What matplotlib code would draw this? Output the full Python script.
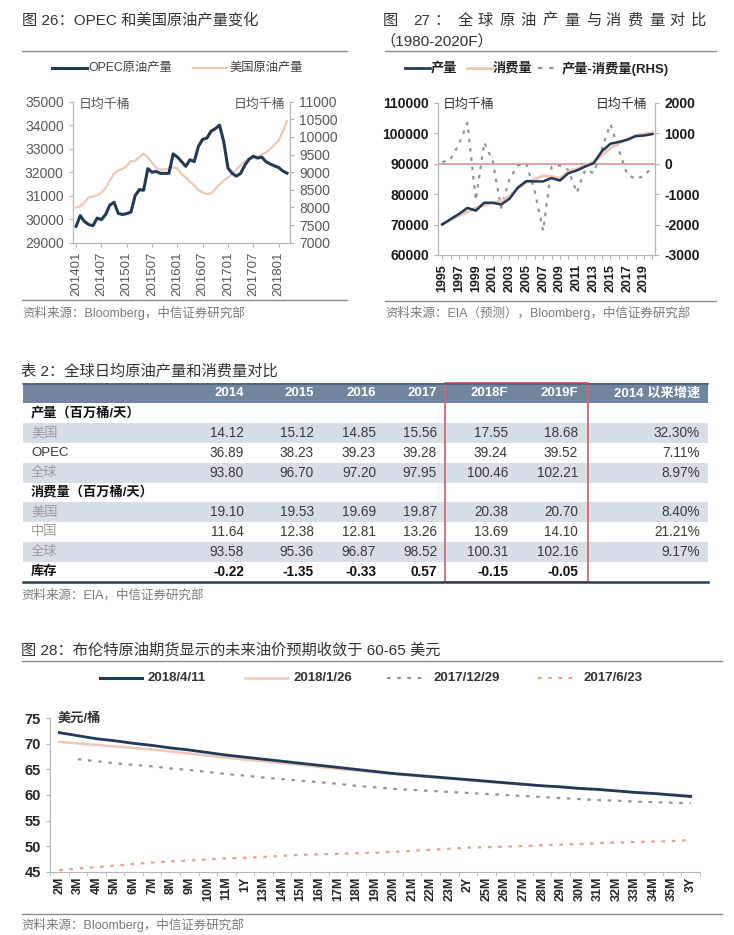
import numpy as np
import matplotlib
matplotlib.use('Agg')
from matplotlib import pyplot as plt
from matplotlib.patches import Rectangle

plt.rcParams['font.family'] = ['Liberation Sans', 'Noto Sans CJK SC', 'DejaVu Sans']
plt.rcParams['axes.unicode_minus'] = False

# ---------------- 图26：OPEC 和美国原油产量（月度 201401-201803，日均千桶）
months26 = [f'{y}{m:02d}' for y in range(2014, 2019) for m in range(1, 13)][:51]
opec = [29700, 30150, 29900, 29770, 29720, 30050, 29980, 30200, 30600, 30720,
        30250, 30200, 30240, 30300, 31000, 31260, 31230, 32150, 32000, 32030,
        31950, 31950, 31950, 32780, 32650, 32450, 32250, 32530, 32450, 33100,
        33400, 33450, 33750, 33850, 34000, 33300, 32180, 31950, 31830, 31950,
        32300, 32550, 32680, 32600, 32640, 32450, 32350, 32270, 32200, 32050, 31960]
us_oil = [8000, 8030, 8150, 8280, 8310, 8350, 8420, 8550, 8780, 8950,
          9050, 9090, 9180, 9310, 9320, 9430, 9530, 9420, 9270, 9120,
          9070, 9080, 9110, 9140, 9100, 8950, 8850, 8730, 8620, 8500,
          8420, 8380, 8400, 8520, 8650, 8760, 8850, 8960, 9080, 9200,
          9310, 9380, 9410, 9450, 9500, 9560, 9660, 9770, 9900, 10150, 10450]

# ---------------- 图27：全球原油产量与消费量（年度，日均千桶）
years27 = list(range(1995, 2021))
prod27 = [70000, 71800, 73500, 75500, 74600, 77200, 77200, 76600, 78500, 82200,
          84300, 84200, 84200, 85300, 84500, 86900, 87800, 89100, 90200, 94200,
          96600, 97200, 97900, 99100, 99300, 99800]
cons27 = [70200, 71500, 73000, 74200, 75500, 76500, 77000, 77800, 79200, 82000,
          83800, 85000, 86000, 85800, 85200, 87500, 88300, 89300, 90700, 92800,
          95200, 96700, 98200, 99300, 99800, 100200]
diff27 = [50, 150, 650, 1350, -1200, 700, 100, -1450, -500, -50,
          0, -900, -2200, -100, -50, -200, -950, -200, -300, 500,
          1300, 450, -350, -500, -400, -100]

# ---------------- 表2
tab_cols = ['2014', '2015', '2016', '2017', '2018F', '2019F', '2014 以来增速']
tab_rows = ['产量（百万桶/天）', '美国', 'OPEC', '全球',
            '消费量（百万桶/天）', '美国', '中国', '全球', '库存']
us_prod = [14.12, 15.12, 14.85, 15.56, 17.55, 18.68]
opec_prod = [36.89, 38.23, 39.23, 39.28, 39.24, 39.52]
world_prod = [93.80, 96.70, 97.20, 97.95, 100.46, 102.21]
us_cons = [19.10, 19.53, 19.69, 19.87, 20.38, 20.70]
china_cons = [11.64, 12.38, 12.81, 13.26, 13.69, 14.10]
world_cons = [93.58, 95.36, 96.87, 98.52, 100.31, 102.16]
stock = [-0.22, -1.35, -0.33, 0.57, -0.15, -0.05]
growth = [None, 32.30, 7.11, 8.97, None, 8.40, 21.21, 9.17, None]

# ---------------- 图28：布伦特期货曲线（美元/桶）
tenors = ['2M', '3M', '4M', '5M', '6M', '7M', '8M', '9M', '10M', '11M', '1Y',
          '13M', '14M', '15M', '16M', '17M', '18M', '19M', '20M', '21M', '22M',
          '23M', '2Y', '25M', '26M', '27M', '28M', '29M', '30M', '31M', '32M',
          '33M', '34M', '35M', '3Y']
c_0411 = [72.2, 71.6, 71.0, 70.6, 70.1, 69.7, 69.2, 68.8, 68.3, 67.8, 67.4,
          67.0, 66.6, 66.2, 65.8, 65.4, 65.0, 64.6, 64.2, 63.9, 63.6,
          63.3, 63.0, 62.7, 62.4, 62.1, 61.8, 61.6, 61.3, 61.1, 60.8,
          60.5, 60.3, 60.0, 59.7]
c_0126 = [70.4, 70.1, 69.8, 69.5, 69.2, 68.9, 68.5, 68.1, 67.7, 67.3, 66.9,
          66.6, 66.2, 65.9, 65.5, 65.1, 64.8, 64.4, 64.1, 63.8, 63.5,
          63.2, 62.9, 62.6, 62.3, 62.0, 61.8, 61.5, 61.2, 61.0, 60.8,
          60.5, 60.3, 60.1, 59.9]
c_1229 = [np.nan, 67.0, 66.6, 66.2, 65.9, 65.6, 65.2, 64.9, 64.5, 64.1, 63.8,
          63.4, 63.1, 62.8, 62.5, 62.2, 61.8, 61.5, 61.2, 61.0, 60.8,
          60.6, 60.4, 60.2, 60.0, 59.8, 59.6, 59.4, 59.2, 59.0, 58.9,
          58.7, 58.6, 58.5, 58.4]
c_0623 = [45.3, 45.6, 45.9, 46.2, 46.5, 46.8, 47.0, 47.2, 47.4, 47.6, 47.7,
          47.9, 48.1, 48.3, 48.4, 48.5, 48.6, 48.7, 48.9, 49.1, 49.3,
          49.5, 49.7, 49.8, 49.9, 50.0, 50.2, 50.3, 50.4, 50.6, 50.7,
          50.8, 50.9, 51.0, 51.2]

NAVY = '#1f3a5a'
PEACH = '#f2c6b4'
GRAYDOT = '#8a96a5'
SALMON = '#e6a18a'
SPINE = '#b5b5b5'
TXT = '#404040'
SRC = '#7a7a7a'

W, H = 734, 935
fig = plt.figure(figsize=(W / 100, H / 100), dpi=100)
bg = fig.add_axes([0, 0, 1, 1])
bg.set_xlim(0, W)
bg.set_ylim(H, 0)
bg.axis('off')


def box(l, t, r, b):
    return fig.add_axes([l / W, 1 - b / H, (r - l) / W, (b - t) / H])


def rule(x0, x1, y):
    bg.plot([x0, x1], [y, y], color='#8c8c8c', lw=1)


def style(ax, color, size, bold=False):
    for s in ax.spines.values():
        s.set_color(SPINE)
    ax.tick_params(colors=SPINE, labelcolor=color, labelsize=size, length=3, width=0.8)
    if bold:
        for lb in ax.get_xticklabels() + ax.get_yticklabels():
            lb.set_fontweight('bold')


# ================= 图26
bg.text(22, 20, '图 26：OPEC 和美国原油产量变化', fontsize=11, color='#333333', va='center')
rule(22, 347, 50.7)
bg.plot([52, 87], [68.3, 68.3], color=NAVY, lw=2.2)
bg.text(88, 68.3, 'OPEC原油产量', fontsize=8.8, color=TXT, va='center')
bg.plot([193, 227], [68.3, 68.3], color=PEACH, lw=1.6)
bg.text(229, 68.3, '美国原油产量', fontsize=8.8, color=TXT, va='center')

ax1 = box(72.7, 101.7, 290, 242.7)
ax1r = ax1.twinx()
x26 = np.arange(len(opec))
ax1.plot(x26, opec, color=NAVY, lw=2.2)
ax1r.plot(x26, us_oil, color=PEACH, lw=1.6)
ax1.set_zorder(ax1r.get_zorder() + 1)
ax1.patch.set_visible(False)
ax1.set_xlim(-0.8, 50.7)
ax1.set_ylim(29000, 35000)
ax1r.set_ylim(7000, 11000)
ax1.set_yticks(range(29000, 35001, 1000))
ax1r.set_yticks(range(7000, 11001, 500))
ax1.set_xticks(x26[::6])
ax1.set_xticklabels(months26[::6], rotation=90)
for a in (ax1, ax1r):
    a.spines['top'].set_visible(False)
    style(a, '#595959', 10)
ax1.tick_params(axis='x', labelsize=9.5)
ax1.text(0.03, 0.975, '日均千桶', transform=ax1.transAxes, fontsize=9.3,
         color='#595959', va='center', ha='left')
ax1.text(0.98, 0.975, '日均千桶', transform=ax1.transAxes, fontsize=9.3,
         color='#595959', va='center', ha='right')
rule(22, 347, 300)
bg.text(22, 313.3, '资料来源：Bloomberg，中信证券研究部', fontsize=9, color=SRC, va='center')

# ================= 图27
t27 = ['图', '27', '：', '全', '球', '原', '油', '产', '量', '与', '消', '费', '量', '对', '比']
t27x = [390.7, 421.7, 441.7, 465, 485, 506.7, 528.3, 550, 571.7, 593.3, 613.3,
        635, 656.7, 676.7, 698.3]
for s, xx in zip(t27, t27x):
    bg.text(xx, 20.7, s, fontsize=11, color='#333333', va='center', ha='center')
bg.text(380, 41.5, '（1980-2020F）', fontsize=11, color='#333333', va='center')
rule(385, 716, 50.7)
bg.plot([405, 430], [68.3, 68.3], color=NAVY, lw=2)
bg.text(431, 68.3, '产量', fontsize=9.5, color='#222222', va='center', fontweight='bold')
bg.plot([467, 492], [68.3, 68.3], color=PEACH, lw=2)
bg.text(493, 68.3, '消费量', fontsize=9.5, color='#222222', va='center', fontweight='bold')
bg.plot([538, 558], [68.3, 68.3], color=GRAYDOT, lw=1.6, ls=(0, (2, 3)))
bg.text(562, 68.3, '产量-消费量(RHS)', fontsize=9.5, color='#222222', va='center',
        fontweight='bold')

ax2 = box(438, 103, 655, 255)
ax2r = ax2.twinx()
ax2r.plot(years27, diff27, color=GRAYDOT, lw=1.6, ls=(0, (1.6, 2.6)))
ax2.axhline(90000, color='#d98a8a', lw=1.1, zorder=1)
ax2.plot(years27, cons27, color=PEACH, lw=2.2, zorder=2)
ax2.plot(years27, prod27, color=NAVY, lw=1.8, zorder=3)
ax2.set_zorder(ax2r.get_zorder() + 1)
ax2.patch.set_visible(False)
ax2.set_xlim(1994.5, 2020.3)
ax2.set_ylim(60000, 110000)
ax2r.set_ylim(-3000, 2000)
ax2.set_yticks(range(60000, 110001, 10000))
ax2r.set_yticks(range(-3000, 2001, 1000))
ax2.set_xticks(years27)
ax2.set_xticklabels([str(y) if y % 2 == 1 and y < 2020 else '' for y in years27], rotation=90)
for a in (ax2, ax2r):
    a.spines['top'].set_visible(False)
    style(a, '#1a1a1a', 10, bold=True)
ax2.tick_params(axis='x', labelsize=9)
ax2.text(0.02, 0.985, '日均千桶', transform=ax2.transAxes, fontsize=9.3,
         color='#333333', va='center', ha='left')
ax2.text(0.965, 0.985, '日均千桶', transform=ax2.transAxes, fontsize=9.3,
         color='#333333', va='center', ha='right')
rule(385, 716, 301)
bg.text(385, 313.3, '资料来源：EIA（预测），Bloomberg，中信证券研究部', fontsize=9,
        color=SRC, va='center')

# ================= 表2
bg.text(21, 371, '表 2：全球日均原油产量和消费量对比', fontsize=11, color='#333333', va='center')
row_vals = [None, us_prod, opec_prod, world_prod, None, us_cons, china_cons, world_cons, stock]
col_r = [244, 314, 376, 437, 508, 578, 700]
tl, tr, top, rh = 23, 708, 383.3, 19.84
bg.add_patch(Rectangle((tl, top), tr - tl, rh, color='#70869e', lw=0))
bg.plot([tl, tr], [top + 0.5, top + 0.5], color='#4b607a', lw=1.2)
for c, xr in zip(tab_cols, col_r):
    bg.text(xr, top + rh / 2, c, fontsize=9.5, color='white', fontweight='bold',
            ha='right', va='center')
for i, lab in enumerate(tab_rows):
    yc = top + rh * (i + 1.5)
    shaded = i in (1, 3, 5, 7)
    if shaded:
        bg.add_patch(Rectangle((tl, top + rh * (i + 1)), tr - tl, rh, color='#d7dee7', lw=0))
    section = row_vals[i] is None
    bold = section or lab == '库存'
    lab_color = '#111111' if bold else ('#333333' if lab == 'OPEC' else '#9a9a9a')
    bg.text(31, yc, lab, fontsize=9.5, color=lab_color, va='center',
            fontweight='bold' if bold else 'normal')
    if section:
        continue
    for v, xr in zip(row_vals[i], col_r):
        bg.text(xr, yc, f'{v:.2f}', fontsize=9.8, color='#111111' if bold else '#3a3a3a',
                ha='right', va='center', fontweight='bold' if bold else 'normal')
    if growth[i] is not None:
        bg.text(col_r[-1], yc, f'{growth[i]:.2f}%', fontsize=9.8, color='#3a3a3a',
                ha='right', va='center')
bot = top + rh * 10
bg.plot([tl, tr], [bot, bot], color='#2b3f5a', lw=1.8)
bg.add_patch(Rectangle((445, top), 143.3, bot - top, fill=False, ec='#d9646c', lw=1.3))
bg.text(21, 595, '资料来源：EIA，中信证券研究部', fontsize=9, color=SRC, va='center')

# ================= 图28
bg.text(21, 650, '图 28：布伦特原油期货显示的未来油价预期收敛于 60-65 美元', fontsize=11,
        color='#333333', va='center')
rule(22, 722, 660.7)
leg28 = [('2018/4/11', NAVY, '-', 2.2, 100, 142),
         ('2018/1/26', PEACH, '-', 1.8, 245, 288),
         ('2017/12/29', GRAYDOT, (0, (1.6, 3)), 1.6, 387, 428),
         ('2017/6/23', SALMON, (0, (1.6, 3)), 1.6, 538, 578)]
for name, col, ls, lw, x0, x1 in leg28:
    bg.plot([x0, x1], [678.3, 678.3], color=col, ls=ls, lw=lw)
    bg.text(x1 + 5, 678.3, name, fontsize=9.5, color='#333333', va='center', fontweight='bold')

ax4 = box(50, 718.3, 700, 871.7)
x28 = np.arange(len(tenors))
ax4.plot(x28, c_0623, color=SALMON, lw=1.6, ls=(0, (1.6, 3)))
ax4.plot(x28, c_1229, color=GRAYDOT, lw=1.6, ls=(0, (1.6, 3)))
ax4.plot(x28, c_0126, color=PEACH, lw=1.8)
ax4.plot(x28, c_0411, color=NAVY, lw=2.0)
ax4.set_xlim(-0.5, len(tenors) - 0.5)
ax4.set_ylim(45, 75)
ax4.set_yticks(range(45, 76, 5))
ax4.set_xticks(x28)
ax4.set_xticklabels(tenors, rotation=90)
ax4.set_xticks(np.arange(-0.5, len(tenors), 1), minor=True)
ax4.spines['top'].set_visible(False)
ax4.spines['right'].set_visible(False)
style(ax4, '#262626', 10.5, bold=True)
ax4.tick_params(axis='x', which='major', length=0, labelsize=9)
ax4.tick_params(axis='x', which='minor', length=3, color=SPINE)
ax4.text(0.012, 1.0, '美元/桶', transform=ax4.transAxes, fontsize=9.5, color='#333333',
         va='center', ha='left', fontweight='bold')
rule(22, 722, 914)
bg.text(21, 925, '资料来源：Bloomberg，中信证券研究部', fontsize=9, color=SRC, va='center')

fig.savefig('out.png', dpi=100)
